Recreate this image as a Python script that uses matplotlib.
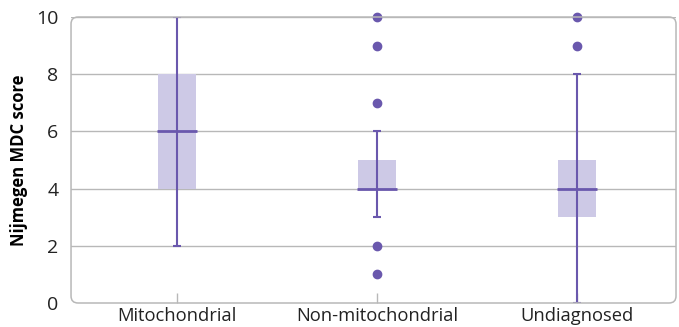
import matplotlib
matplotlib.use("Agg")
import matplotlib.pyplot as plt
from matplotlib.patches import FancyBboxPatch
from matplotlib.transforms import IdentityTransform

plt.rcParams['font.family'] = ['Open Sans', 'DejaVu Sans']

groups = ["Mitochondrial", "Non-mitochondrial", "Undiagnosed"]
q1 = [4, 4, 3]
median = [6, 4, 4]
q3 = [8, 5, 5]
whislo = [2, 3, 0]
whishi = [10, 6, 8]
outliers = [[], [10, 9, 7, 2, 1], [10, 9]]

purple = '#6a58ad'
fill = '#cdc9e6'
grid = '#b8b8b8'

fig = plt.figure(figsize=(6.79, 3.27), dpi=100)
ax = fig.add_axes([0.1046, 0.0734, 0.8910, 0.8746])

x = range(len(groups))
box_w = 0.19

for gi in x:
    ax.bar(gi, q3[gi] - q1[gi], bottom=q1[gi], width=box_w, color=fill,
           edgecolor='none', zorder=2)
    ax.vlines(gi, whislo[gi], whishi[gi], color=purple, lw=1.5, zorder=3)
    ax.hlines([whislo[gi], whishi[gi]], gi - 0.02, gi + 0.02, color=purple,
              lw=1.5, zorder=3)
    ax.hlines(median[gi], gi - box_w / 2 - 0.005, gi + box_w / 2 + 0.005,
              color=purple, lw=2, zorder=4)
    if outliers[gi]:
        ax.plot([gi] * len(outliers[gi]), outliers[gi], 'o', color=purple,
                ms=6, zorder=4, clip_on=False)

ax.set_xlim(-0.53, 2.495)
ax.set_ylim(0, 10)
ax.set_yticks([0, 2, 4, 6, 8, 10])
ax.set_xticks(list(x))
ax.set_xticklabels(groups, fontsize=13.2, color='#222222')
ax.tick_params(axis='y', length=0, pad=9, labelsize=14, labelcolor='#222222')
ax.tick_params(axis='x', direction='in', length=7, width=1, color=grid, pad=3)

for y in [2, 4, 6, 8, 10]:
    ax.axhline(y, color=grid, lw=1, zorder=1)

for s in ax.spines.values():
    s.set_visible(False)

ax.set_ylabel("Nijmegen MDC score", fontsize=12, fontweight='bold',
              labelpad=6)

fig.canvas.draw()
bb = ax.get_window_extent()
frame = FancyBboxPatch((bb.x0, bb.y0), bb.width, bb.height,
                       boxstyle="round,pad=0,rounding_size=7",
                       transform=IdentityTransform(), fill=False,
                       edgecolor=grid, lw=1.1, zorder=0)
fig.patches.append(frame)

fig.savefig("out.png", dpi=100)
